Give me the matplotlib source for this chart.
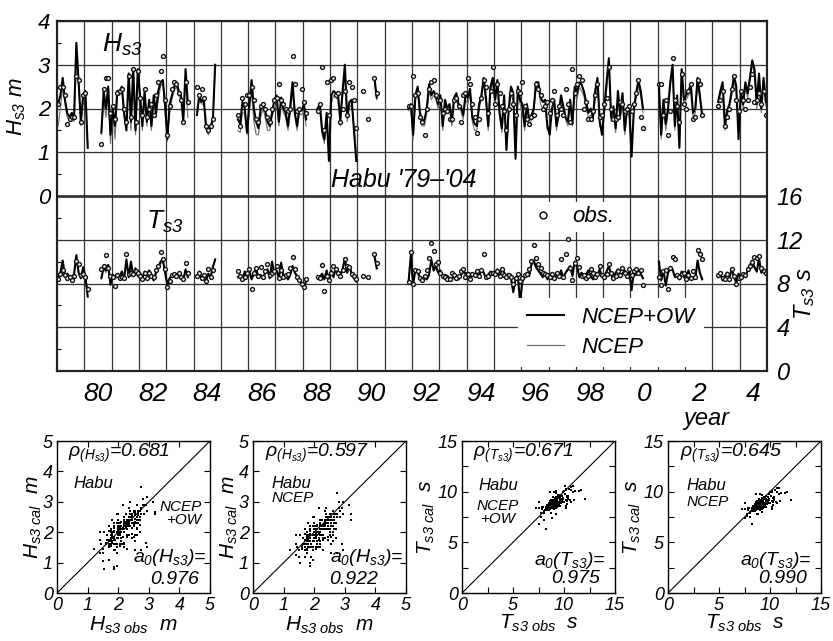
import numpy as np
import matplotlib
matplotlib.use("Agg")
import matplotlib.pyplot as plt
from matplotlib.lines import Line2D
from matplotlib.ticker import MultipleLocator

plt.rcParams["font.family"] = "Liberation Sans"
plt.rcParams["font.style"] = "italic"
plt.rcParams["mathtext.fontset"] = "custom"
plt.rcParams["mathtext.it"] = "Liberation Sans:italic"
plt.rcParams["mathtext.rm"] = "Liberation Sans:italic"
plt.rcParams["mathtext.default"] = "it"

NA = None
START_YEAR = 1979

# monthly Hs3 (m), Jan 1979 .. Dec 2004, one row per year
hs_ow = [
    2.1, 2.3, 2.7, 2.2, 1.9, 1.8, 1.9, 1.8, 3.5, 2.6, 1.7, 2.3,
    2.4, 1.1, NA, NA, NA, NA, NA, 1.45, 2.4, 2.0, 2.5, 1.4,
    2.0, 1.6, 2.4, 2.4, 2.5, 1.9, 1.5, 2.8, 1.7, 2.9, 1.5, 2.9,
    2.3, 1.6, 2.4, 1.7, 2.2, 1.6, 2.3, 1.9, 2.4, 2.6, 2.65, 2.1,
    1.3, 2.1, 2.3, 2.5, 2.6, 2.4, 2.3, 1.7, 2.9, 2.1, NA, NA,
    NA, 1.85, 2.3, 2.15, 2.2, 1.6, 1.45, 1.6, 1.75, 3.0, NA, NA,
    NA, NA, NA, NA, NA, NA, NA, 1.75, 1.65, 2.15, 2.0, 1.45,
    2.1, 2.65, 2.0, 1.7, 1.55, 2.0, 2.1, 1.95, 1.7, 1.6, 1.9, 2.2,
    2.3, 1.7, 2.25, 2.0, 1.9, 1.6, 2.05, 2.6, 1.9, 1.6, 2.0, 1.95,
    2.1, 1.75, NA, NA, NA, NA, 2.0, 2.1, 1.5, 1.3, 1.9, 0.8,
    2.3, 2.4, 2.35, 2.3, 1.75, 2.4, 3.0, 1.8, 2.15, 2.2, 1.5, 0.8,
    NA, NA, NA, NA, NA, NA, NA, 2.7, 2.25, NA, NA, NA,
    NA, NA, NA, NA, NA, NA, NA, NA, NA, NA, 2.0, 2.1,
    1.4, 2.3, 2.5, 1.9, 1.7, 1.75, 2.0, 2.55, 2.3, 2.4, 2.3, 2.1,
    2.3, 1.6, 2.2, 2.0, 2.1, 1.7, 2.25, 2.35, 2.1, 2.05, 1.85, 2.3,
    2.25, 2.45, 1.8, 1.65, 1.6, 2.1, 2.3, 2.7, 2.25, 1.6, 2.5, 2.7,
    2.2, 2.65, 1.9, 1.55, 2.3, 1.05, 2.0, 2.5, 2.35, 0.85, 2.5, 2.2,
    2.1, 1.6, 2.1, 1.75, 1.85, 2.0, 2.6, 2.6, 2.25, 2.15, 2.2, 1.6,
    1.4, 2.0, 2.2, 1.6, 1.9, 2.3, 2.05, 1.8, 1.7, 2.2, 1.65, 2.5,
    2.35, 2.6, 2.55, 2.4, 2.15, 1.9, 2.0, 1.8, 2.4, 2.7, 1.7, 1.4,
    2.0, 2.6, 3.15, 1.8, 2.05, 1.55, 2.4, 1.85, 2.35, 1.5, 2.0, 1.95,
    0.9, 2.0, 2.35, 2.65, 2.4, 2.0, NA, NA, NA, NA, NA, NA,
    2.55, 1.4, 2.2, 1.65, 2.0, 2.6, 3.0, 1.6, 2.3, 1.1, 2.9, 2.2,
    2.3, 2.4, 2.55, 1.9, 2.0, 2.7, 2.3, 1.85, NA, NA, NA, NA,
    NA, NA, 2.15, 2.4, 2.6, 1.6, 1.95, 2.1, 2.4, 2.75, 2.5, 1.3,
    2.4, 2.1, 2.6, 2.35, 2.7, 3.1, 2.9, 2.1, 2.8, 2.0, 2.7, 2.15,
]
hs_ncep = [
    1.6, 2.0, 2.5, 2.1, 1.8, 1.7, 1.8, 1.7, 3.3, 2.5, 1.6, 2.2,
    2.3, 1.2, NA, NA, NA, NA, NA, 1.4, 2.2, 1.8, 2.3, 1.2,
    1.9, 1.3, 2.3, 2.3, 2.4, 1.8, 1.6, 2.6, 1.5, 2.8, 1.4, 2.7,
    2.2, 1.5, 2.3, 1.6, 2.1, 1.5, 2.2, 1.8, 2.2, 2.5, 2.6, 1.9,
    1.25, 1.9, 2.2, 2.4, 2.5, 2.3, 2.2, 1.75, 2.7, 1.8, NA, NA,
    NA, 1.9, 2.2, 2.1, 2.1, 1.5, 1.4, 1.55, 1.7, 2.9, NA, NA,
    NA, NA, NA, NA, NA, NA, NA, 1.5, 1.45, 1.9, 1.9, 1.4,
    1.9, 2.4, 1.7, 1.4, 1.4, 1.8, 2.0, 1.8, 1.5, 1.5, 1.8, 2.0,
    2.1, 1.6, 2.1, 1.9, 1.8, 1.5, 1.9, 2.4, 1.85, 1.5, 1.9, 1.85,
    1.95, 1.6, NA, NA, NA, NA, 1.9, 2.0, 1.4, 1.2, 1.7, 0.9,
    2.1, 2.3, 2.25, 2.2, 1.6, 2.3, 2.8, 1.7, 2.0, 2.1, 1.6, 1.0,
    NA, NA, NA, NA, NA, NA, NA, 2.6, 2.2, NA, NA, NA,
    NA, NA, NA, NA, NA, NA, NA, NA, NA, NA, 1.95, 2.0,
    1.3, 2.2, 2.4, 1.8, 1.6, 1.6, 1.9, 2.4, 2.2, 2.3, 2.2, 2.0,
    2.2, 1.5, 2.1, 1.9, 2.0, 1.6, 2.1, 2.2, 2.0, 1.95, 1.75, 2.2,
    2.1, 2.3, 1.7, 1.5, 1.5, 2.0, 2.2, 2.6, 2.1, 1.5, 2.4, 2.6,
    2.1, 2.5, 1.8, 1.45, 2.2, 1.2, 1.9, 2.3, 2.2, 1.0, 2.3, 2.1,
    1.9, 1.5, 2.0, 1.6, 1.75, 1.9, 2.5, 2.5, 2.1, 2.0, 2.1, 1.5,
    1.6, 1.9, 2.1, 1.5, 1.8, 2.2, 1.95, 1.75, 1.6, 2.1, 1.6, 2.35,
    2.2, 2.5, 2.4, 2.3, 2.0, 1.8, 1.85, 1.7, 2.2, 2.6, 1.6, 1.5,
    1.9, 2.4, 3.0, 1.7, 1.9, 1.45, 2.3, 1.75, 2.25, 1.4, 1.9, 1.85,
    1.1, 1.9, 2.25, 2.5, 2.3, 1.9, NA, NA, NA, NA, NA, NA,
    2.4, 1.3, 2.1, 1.5, 1.9, 2.5, 2.9, 1.5, 2.2, 1.2, 2.8, 2.1,
    2.2, 2.3, 2.4, 1.8, 1.9, 2.6, 2.2, 1.8, NA, NA, NA, NA,
    NA, NA, 2.0, 2.3, 2.5, 1.5, 1.85, 2.0, 2.3, 2.6, 2.4, 1.4,
    2.3, 2.0, 2.5, 2.25, 2.6, 3.0, 2.8, 2.0, 2.7, 1.9, 2.6, 2.05,
]
hs_obs = [
    2.1, 2.5, 2.5, 2.3, 1.65, 1.75, 1.8, 1.8, 2.75, 2.65, 1.7, 2.3,
    2.35, NA, NA, NA, NA, NA, NA, 1.2, 2.45, 2.7, 2.7, 1.9,
    2.05, 1.75, 2.35, 2.4, 2.45, 2.0, 1.7, 2.75, 1.8, 2.9, 1.7, 2.85,
    2.25, 1.85, 2.45, 1.8, 2.0, 2.1, 1.85, 2.3, 2.6, 2.85, 3.2, 2.2,
    1.4, 2.05, 2.45, 2.6, 2.55, 2.35, 2.2, 1.7, 2.6, 2.15, NA, NA,
    NA, 2.5, 2.3, 2.45, 2.25, 1.6, 1.5, 1.6, 1.75, NA, NA, NA,
    NA, NA, NA, NA, NA, NA, NA, 1.85, 1.6, 2.25, 2.1, 2.3,
    2.3, 2.5, 2.2, 1.75, 1.7, 2.05, 2.1, 2.0, 1.8, 1.7, 2.0, 2.2,
    2.25, 2.55, 2.2, 2.1, 2.0, 1.95, 2.0, 3.2, 2.55, 1.95, 2.0, 2.45,
    2.15, 1.9, NA, NA, NA, NA, 1.95, 2.1, 2.95, 1.5, 2.6, 1.85,
    2.65, 2.7, 2.3, 2.35, 1.7, 2.0, 2.4, 1.85, 2.6, 2.5, 2.2, 1.55,
    NA, NA, 2.4, NA, 1.75, NA, NA, 2.7, 2.35, NA, NA, NA,
    NA, NA, NA, NA, NA, NA, NA, NA, NA, NA, 2.05, 2.05,
    2.75, 2.3, 2.35, 1.8, 1.7, 1.4, 2.0, 2.45, 2.6, 2.65, 2.3, 2.2,
    2.2, 1.9, 2.0, 1.95, 1.75, 1.75, 2.2, 2.25, 2.05, 1.7, 2.3, 2.35,
    2.7, 2.55, 2.1, 1.8, 1.45, 1.75, 2.25, 2.65, 2.5, 1.9, 2.4, 2.95,
    2.1, 2.55, 2.35, 2.05, 1.95, 1.5, 2.0, 2.35, 2.1, 1.85, 2.4, 2.35,
    2.6, 2.05, 1.75, 1.65, 1.8, 1.85, 2.55, 2.45, 2.3, 2.0, 2.05, 2.15,
    1.9, 2.2, 2.4, 1.85, 2.05, 2.0, 1.85, 2.45, 2.1, 1.7, 2.9, 2.35,
    2.55, 2.75, 2.65, 2.0, 2.15, 1.75, 1.75, 1.95, 2.3, 2.55, 1.8, 1.85,
    2.1, 2.25, 2.95, 2.0, 1.75, 1.75, 1.8, 2.15, 2.1, 1.95, 2.0, 2.05,
    1.95, 2.1, 2.35, 2.65, 1.8, 1.55, NA, NA, NA, NA, NA, NA,
    2.55, 2.55, 1.85, 2.2, 1.4, 1.95, 3.15, 2.2, 2.05, 1.7, 2.8, 2.1,
    2.0, 2.4, 2.55, 1.75, 1.8, 2.65, 2.55, 1.85, NA, NA, NA, NA,
    NA, NA, 2.05, 2.2, 2.4, 1.6, 1.8, 2.0, 2.45, 2.75, 2.2, 1.95,
    2.4, 2.2, 2.0, 2.2, 2.5, 2.8, 2.15, 2.2, 2.35, 2.1, 2.4, 1.85,
]

# monthly Ts3 (s)
ts_ow = [
    8.5, 9.0, 10.1, 8.7, 8.9, 8.6, 8.4, 8.9, 10.6, 9.0, 8.5, 9.5,
    8.6, 6.8, NA, NA, NA, NA, NA, 8.5, 9.5, 9.2, 9.7, 7.9,
    8.8, 8.5, 8.7, 8.6, 9.1, 8.4, 10.2, 8.6, 10.0, 8.7, 9.4, 8.7,
    9.0, 8.5, 9.1, 8.8, 9.2, 8.7, 8.3, 9.0, 9.5, 10.0, 10.2, 9.0,
    7.9, 8.5, 8.7, 8.8, 8.6, 8.9, 8.7, 8.3, 9.3, 8.6, NA, NA,
    NA, 8.6, 9.1, 8.4, 8.8, 8.3, 8.9, 8.6, 9.5, 10.2, NA, NA,
    NA, NA, NA, NA, NA, NA, NA, 8.6, 8.8, 8.4, 9.1, 8.7,
    9.2, 8.4, 8.9, 9.4, 8.6, 8.8, 8.5, 9.0, 9.3, 8.5, 10.0, 8.9,
    9.2, 8.5, 9.9, 8.6, 8.7, 8.4, 8.8, 9.6, 9.0, 8.7, 8.3, 7.9,
    7.5, 8.3, NA, NA, NA, NA, 8.7, 8.6, 8.9, 8.4, 9.2, 8.2,
    9.2, 8.6, 9.4, 9.0, 8.8, 9.3, 10.3, 9.0, 9.6, 8.9, 8.5, 8.2,
    NA, NA, NA, NA, NA, NA, NA, 10.5, 9.4, NA, NA, NA,
    NA, NA, NA, NA, NA, NA, NA, NA, NA, NA, 8.2, 10.6,
    7.9, 9.3, 9.0, 8.6, 8.3, 8.6, 8.4, 8.8, 10.2, 9.2, 9.6, 9.0,
    9.2, 8.6, 8.8, 8.7, 8.5, 8.3, 8.9, 8.6, 8.4, 8.8, 9.1, 8.9,
    9.0, 8.5, 8.8, 8.7, 9.2, 8.6, 9.3, 9.0, 8.5, 8.8, 9.1, 8.9,
    8.8, 9.3, 8.6, 9.4, 9.0, 8.7, 8.9, 8.5, 7.2, 8.4, 8.7, 6.3,
    8.2, 8.6, 9.0, 8.7, 9.8, 10.1, 9.5, 9.2, 8.9, 8.6, 9.0, 8.4,
    8.7, 8.9, 8.4, 8.8, 8.6, 9.2, 8.5, 9.0, 9.3, 9.6, 8.7, 10.0,
    9.6, 8.6, 9.0, 8.5, 8.8, 9.2, 8.7, 8.4, 9.0, 8.8, 9.3, 8.6,
    8.7, 9.1, 9.6, 8.8, 8.5, 9.0, 9.3, 8.6, 8.9, 9.2, 8.8, 9.0,
    7.4, 9.1, 8.8, 9.2, 8.9, 8.5, NA, NA, NA, NA, NA, NA,
    10.0, 8.3, 9.2, 7.8, 9.0, 9.4, 9.3, 8.6, 8.8, 8.4, 9.1, 8.6,
    8.5, 9.2, 8.4, 8.6, 8.5, 10.1, 9.0, 8.4, NA, NA, NA, NA,
    NA, NA, 8.6, 8.9, 8.3, 8.7, 9.0, 8.5, 9.4, 8.6, 8.1, 8.9,
    8.4, 8.9, 8.6, 9.2, 9.7, 10.1, 9.5, 9.1, 10.3, 9.0, 9.3, 8.9,
]
ts_ncep = [
    8.3, 8.8, 9.4, 8.6, 8.8, 8.5, 8.3, 8.8, 10.0, 8.9, 8.4, 9.3,
    8.5, 7.4, NA, NA, NA, NA, NA, 8.4, 9.3, 9.0, 9.5, 7.8,
    8.6, 8.4, 8.6, 8.5, 9.0, 8.3, 10.0, 8.5, 9.8, 8.6, 9.2, 8.6,
    8.9, 8.4, 9.0, 8.7, 9.1, 8.6, 8.2, 8.9, 9.3, 9.8, 10.0, 8.9,
    7.8, 8.4, 8.6, 8.7, 8.5, 8.8, 8.6, 8.2, 9.2, 8.5, NA, NA,
    NA, 8.5, 9.0, 8.3, 8.7, 8.2, 8.8, 8.5, 9.4, 10.1, NA, NA,
    NA, NA, NA, NA, NA, NA, NA, 8.5, 8.7, 8.3, 9.0, 8.6,
    9.0, 8.3, 8.8, 9.3, 8.5, 8.7, 8.4, 8.9, 9.2, 8.4, 9.8, 8.8,
    9.1, 8.4, 9.7, 8.5, 8.6, 8.3, 8.7, 9.5, 8.9, 8.6, 8.2, 7.9,
    7.6, 8.2, NA, NA, NA, NA, 8.6, 8.5, 8.8, 8.3, 9.1, 8.1,
    9.1, 8.5, 9.3, 8.9, 8.7, 9.2, 10.1, 8.9, 9.5, 8.8, 8.4, 8.1,
    NA, NA, NA, NA, NA, NA, NA, 10.4, 9.3, NA, NA, NA,
    NA, NA, NA, NA, NA, NA, NA, NA, NA, NA, 8.1, 10.4,
    7.9, 9.2, 8.9, 8.5, 8.2, 8.5, 8.3, 8.7, 10.0, 9.1, 9.5, 8.9,
    9.1, 8.5, 8.7, 8.6, 8.4, 8.2, 8.8, 8.5, 8.3, 8.7, 9.0, 8.8,
    8.9, 8.4, 8.7, 8.6, 9.1, 8.5, 9.2, 8.9, 8.4, 8.7, 9.0, 8.8,
    8.7, 9.2, 8.5, 9.3, 8.9, 8.6, 8.8, 8.4, 7.5, 8.3, 8.6, 6.8,
    8.1, 8.5, 8.9, 8.6, 9.6, 9.9, 9.4, 9.1, 8.8, 8.5, 8.9, 8.3,
    8.6, 8.8, 8.3, 8.7, 8.5, 9.1, 8.4, 8.9, 9.2, 9.5, 8.6, 9.8,
    9.4, 8.5, 8.9, 8.4, 8.7, 9.1, 8.6, 8.3, 8.9, 8.7, 9.2, 8.5,
    8.6, 9.0, 9.5, 8.7, 8.4, 8.9, 9.2, 8.5, 8.8, 9.1, 8.7, 8.9,
    7.8, 9.0, 8.7, 9.1, 8.8, 8.4, NA, NA, NA, NA, NA, NA,
    9.8, 8.2, 9.1, 8.0, 8.9, 9.3, 9.2, 8.5, 8.7, 8.3, 9.0, 8.5,
    8.4, 9.1, 8.3, 8.5, 8.4, 9.9, 8.9, 8.3, NA, NA, NA, NA,
    NA, NA, 8.5, 8.8, 8.2, 8.6, 8.9, 8.4, 9.3, 8.5, 8.0, 8.8,
    8.3, 8.8, 8.5, 9.1, 9.6, 10.0, 9.4, 9.0, 10.2, 8.9, 9.2, 8.8,
]
ts_obs = [
    8.4, 8.9, 9.2, 8.8, 8.5, 8.6, 8.3, 8.7, 10.1, 9.8, 8.8, 8.9,
    8.6, 7.5, NA, NA, NA, NA, NA, 9.3, 9.6, 10.6, 9.4, 8.7,
    8.6, 7.8, 8.8, 8.5, 8.6, 8.5, 10.7, 8.9, 9.0, 8.9, 9.1, 9.0,
    8.7, 8.4, 9.0, 8.5, 9.0, 8.7, 8.6, 9.2, 9.6, 10.9, 10.2, 9.3,
    7.7, 8.2, 8.8, 8.9, 8.7, 9.0, 8.6, 8.4, 9.9, 9.0, NA, NA,
    NA, 8.7, 9.0, 8.5, 8.8, 8.2, 9.3, 8.6, 9.2, NA, NA, NA,
    NA, NA, NA, NA, NA, NA, NA, 9.1, 8.7, 8.4, 8.6, 9.0,
    9.3, 7.5, 9.0, 9.4, 8.7, 9.5, 8.6, 9.1, 9.8, 8.8, 9.0, 9.1,
    9.6, 8.5, 9.2, 8.6, 8.8, 8.9, 9.4, 10.4, 9.3, 8.6, 8.3, 8.0,
    7.7, 8.4, NA, NA, NA, NA, 8.6, 8.5, 9.7, 7.3, 8.7, 8.3,
    9.0, 9.6, 9.3, 9.0, 8.7, 9.2, 10.2, 9.6, 9.5, 8.9, 8.7, 8.4,
    NA, NA, 8.7, NA, 8.6, NA, NA, 10.7, 9.9, NA, NA, NA,
    NA, NA, NA, NA, NA, NA, NA, NA, NA, NA, 8.1, 10.9,
    8.0, 9.2, 9.1, 8.5, 8.3, 8.7, 9.2, 10.3, 11.7, 11.0, 9.8, 10.0,
    9.0, 8.7, 8.6, 8.4, 8.4, 9.0, 8.8, 8.5, 8.7, 9.1, 9.3, 8.6,
    8.9, 8.4, 8.9, 8.8, 9.1, 8.7, 9.2, 10.7, 8.6, 8.7, 9.0, 9.0,
    8.9, 9.1, 8.7, 9.3, 8.8, 8.6, 8.8, 8.6, 8.0, 8.5, 8.9, 8.2,
    8.5, 8.8, 8.9, 9.3, 10.1, 11.5, 10.3, 9.8, 9.4, 9.0, 8.9, 8.8,
    8.6, 8.9, 8.5, 9.0, 8.7, 10.2, 8.6, 10.7, 12.1, 9.4, 8.3, 9.9,
    10.3, 9.5, 8.7, 8.8, 8.5, 8.7, 9.3, 9.0, 8.6, 8.9, 9.6, 8.8,
    8.6, 8.9, 9.8, 9.0, 8.5, 8.7, 9.1, 8.8, 9.4, 9.0, 8.7, 9.3,
    8.8, 9.1, 9.3, 9.0, 9.2, 7.9, NA, NA, NA, NA, NA, NA,
    8.6, 7.85, 9.1, 9.2, 7.5, 9.4, 10.4, 10.2, 8.8, 8.6, 8.9, 9.0,
    8.4, 8.8, 8.5, 9.1, 8.6, 11.1, 10.7, 10.2, NA, NA, NA, NA,
    NA, NA, 8.8, 9.0, 8.5, 8.4, 8.9, 8.4, 9.3, 8.7, 8.0, 8.5,
    8.6, 8.9, 8.8, 9.3, 9.6, 10.0, 10.4, 10.3, 10.5, 9.4, 9.1, 9.0,
]

year_grid = list(range(1980, 2005))
label_years = [1980, 1982, 1984, 1986, 1988, 1990, 1992, 1994, 1996, 1998, 2000, 2002, 2004]
year_labels = ["80", "82", "84", "86", "88", "90", "92", "94", "96", "98", "0", "2", "4"]

hs_ticks = [0, 1, 2, 3, 4]
ts_ticks = [0, 4, 8, 12, 16]

# statistics printed on the scatter panels
rho_values = ["0.681", "0.597", "0.671", "0.645"]
a0_values = ["0.976", "0.922", "0.975", "0.990"]

hs_ow = np.array(hs_ow, dtype=float)
hs_ncep = np.array(hs_ncep, dtype=float)
hs_obs = np.array(hs_obs, dtype=float)
ts_ow = np.array(ts_ow, dtype=float)
ts_ncep = np.array(ts_ncep, dtype=float)
ts_obs = np.array(ts_obs, dtype=float)
t = START_YEAR + (np.arange(len(hs_ow)) + 0.5) / 12.0

W, H = 833, 641
fig = plt.figure(figsize=(W / 100, H / 100), dpi=100)


def frac(x0, y0, x1, y1):
    return [x0 / W, 1 - y1 / H, (x1 - x0) / W, (y1 - y0) / H]


GRID = "#333333"
THIN = "#707070"

# ---- time series panel ----
ax = fig.add_axes(frac(57, 21, 767, 371))
ax.set_xlim(1979, 2005)
ax.set_ylim(-4, 4)
ax2 = ax.twinx()
ax2.set_ylim(0, 32)

for a in (ax, ax2):
    for s in a.spines.values():
        s.set_linewidth(1.5)
        s.set_color("#222222")

ax.set_xticks(year_grid)
ax.tick_params(axis="x", which="major", length=0, labelbottom=False)
ax.set_xticks([y + 0.5 for y in label_years], year_labels, minor=True)
ax.tick_params(axis="x", which="minor", length=0, labelsize=19, pad=8)
ax.grid(axis="x", which="major", color=GRID, lw=0.9)

ax.set_yticks(hs_ticks)
ax.yaxis.set_minor_locator(MultipleLocator(0.5))
ax.tick_params(axis="y", which="major", length=0, labelsize=16, pad=5)
ax.tick_params(axis="y", which="minor", direction="in", length=3, width=0.8)
ax.grid(axis="y", which="major", color=GRID, lw=0.9)
ax.axhline(0, color="#222222", lw=1.8)

ax2.set_yticks(ts_ticks)
ax2.tick_params(axis="y", length=0, labelsize=17, pad=7)
ax2.grid(axis="y", color=GRID, lw=0.9)

ax.plot(t, hs_ncep, color=THIN, lw=0.8)
ax.plot(t, hs_ow, color="black", lw=1.5)
ax.plot(t, hs_obs, "o", ms=2.8, mfc="white", mec="#111111", mew=1.0)

ax2.plot(t, ts_ncep, color=THIN, lw=0.8)
ax2.plot(t, ts_ow, color="black", lw=1.5)
ax2.plot(t, ts_obs, "o", ms=2.8, mfc="white", mec="#111111", mew=1.0)

ax.set_ylabel(r"$H_{s3}$ m", fontsize=16)
ax.yaxis.set_label_coords(-0.041, 0.754)
ax2.set_ylabel(r"$T_{s3}$ s", fontsize=17, rotation=90)
ax2.yaxis.set_label_coords(1.035, 0.22)

ax.text(0.0915, 0.931, r"$H_{s3}$", transform=ax.transAxes, fontsize=19,
        ha="center", va="center")
ax.text(0.152, 0.426, r"$T_{s3}$", transform=ax.transAxes, fontsize=19,
        ha="center", va="center")
ax.text(0.489, 0.546, "Habu '79\u2013'04", transform=ax.transAxes, fontsize=18,
        ha="center", va="center")

obs_handle = [Line2D([], [], ls="none", marker="o", ms=5, mfc="white", mec="black", mew=1)]
leg1 = ax2.legend(obs_handle, ["obs."], loc="center left", bbox_to_anchor=(0.66, 0.44),
                  fontsize=16, handlelength=1.2, handletextpad=0.7, borderpad=0.2,
                  borderaxespad=0, frameon=True, fancybox=False, framealpha=1,
                  edgecolor="none", facecolor="white")
ax2.add_artist(leg1)
line_handles = [Line2D([], [], color="black", lw=1.5), Line2D([], [], color=THIN, lw=0.9)]
ax2.legend(line_handles, ["NCEP+OW", "NCEP"], loc="center left", bbox_to_anchor=(0.649, 0.11),
           fontsize=16, handlelength=1.67, handletextpad=0.8, borderpad=0.4,
           labelspacing=0.4, borderaxespad=0, frameon=True, fancybox=False,
           framealpha=1, edgecolor="none", facecolor="white")

fig.text(706 / W, 1 - 419 / H, "year", fontsize=17, ha="center", va="center")


# ---- scatter panels ----
def scatter_panel(x0, obs, cal, lim, major, minor, name, unit, rho, a0, labels, pos):
    axs = fig.add_axes(frac(x0, 441, x0 + 153, 593))
    ok = ~np.isnan(obs) & ~np.isnan(cal)
    axs.plot(obs[ok], cal[ok], "s", ms=1.7, color="black", mew=0)
    axs.plot([0, lim], [0, lim], color="black", lw=0.8)
    axs.set_xlim(0, lim)
    axs.set_ylim(0, lim)
    axs.xaxis.set_major_locator(MultipleLocator(major))
    axs.yaxis.set_major_locator(MultipleLocator(major))
    if minor:
        axs.xaxis.set_minor_locator(MultipleLocator(minor))
        axs.yaxis.set_minor_locator(MultipleLocator(minor))
    axs.tick_params(which="both", direction="in", top=True, right=True,
                    length=4, width=0.8, labelsize=13, pad=3)
    for s in axs.spines.values():
        s.set_linewidth(1.0)
    axs.set_xlabel(r"$%s_{s3\ obs}$  %s" % (name, unit), fontsize=15)
    axs.set_ylabel(r"$%s_{s3\ cal}$  %s" % (name, unit), fontsize=15)
    axs.xaxis.set_label_coords(0.5, pos["xl"])
    axs.yaxis.set_label_coords(pos["yl"], 0.5)
    axs.text(pos["rho"], 0.92, r"$\rho_{(%s_{s3})}$=%s" % (name, rho),
             transform=axs.transAxes, fontsize=14, ha="left", va="center")
    for (x, y, s, size, ha) in labels:
        axs.text(x, y, s, transform=axs.transAxes, fontsize=size, ha=ha, va="center")
    axs.text(pos["a0x"], pos["a0y"], r"$a_0(%s_{s3})$=" % name,
             transform=axs.transAxes, fontsize=14, ha="right", va="center")
    axs.text(pos["vx"], pos["vy"], a0, transform=axs.transAxes, fontsize=14,
             ha="right", va="center")
    return axs


scatter_panel(57, hs_obs, hs_ow, 5, 1, None, "H", "m", rho_values[0], a0_values[0],
              [(0.105, 0.72, "Habu", 12, "left"),
               (0.945, 0.565, "NCEP", 11, "right"),
               (0.945, 0.48, "+OW", 11, "right")],
              dict(xl=-0.14, yl=-0.085, rho=0.07, a0x=0.975, a0y=0.232, vx=0.93, vy=0.09))
scatter_panel(253, hs_obs, hs_ncep, 5, 1, None, "H", "m", rho_values[1], a0_values[1],
              [(0.12, 0.72, "Habu", 12, "left"),
               (0.12, 0.625, "NCEP", 11, "left")],
              dict(xl=-0.14, yl=-0.085, rho=0.08, a0x=0.985, a0y=0.232, vx=0.82, vy=0.09))
scatter_panel(462, ts_obs, ts_ow, 15, 5, 2.5, "T", "s", rho_values[2], a0_values[2],
              [(0.235, 0.71, "Habu", 12, "center"),
               (0.235, 0.574, "NCEP", 11, "center"),
               (0.235, 0.487, "+OW", 11, "center")],
              dict(xl=-0.13, yl=-0.165, rho=0.07, a0x=0.94, a0y=0.217, vx=0.90, vy=0.098))
scatter_panel(668, ts_obs, ts_ncep, 15, 5, 2.5, "T", "s", rho_values[3], a0_values[3],
              [(0.12, 0.71, "Habu", 12, "left"),
               (0.12, 0.6, "NCEP", 11, "left")],
              dict(xl=-0.13, yl=-0.165, rho=0.08, a0x=0.94, a0y=0.217, vx=0.91, vy=0.098))

fig.savefig("out.png", dpi=100, facecolor="white")
